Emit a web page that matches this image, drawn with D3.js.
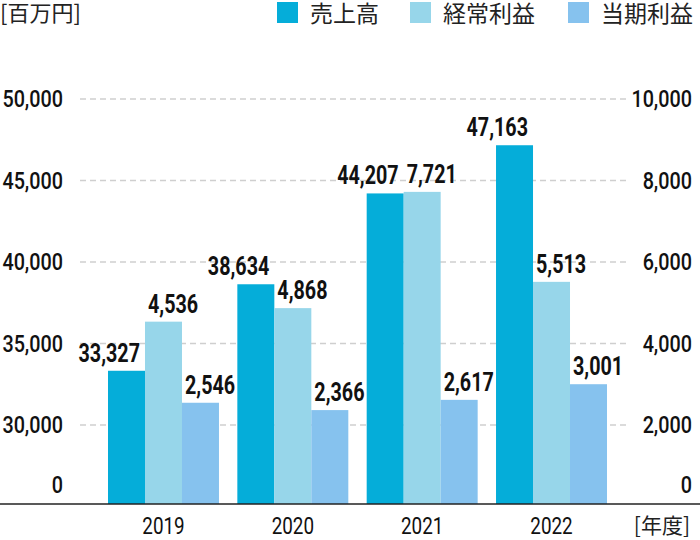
<!DOCTYPE html>
<html>
<head>
<meta charset="utf-8">
<script src="https://cdn.jsdelivr.net/npm/d3@7/dist/d3.min.js"></script>
<style>
  html, body { margin: 0; padding: 0; background: #fff; }
  svg { display: block; }
</style>
</head>
<body>
<svg id="chart" width="700" height="540"></svg>
<script>
// ---- data ----
const years = ["2019", "2020", "2021", "2022"];
const seriesNames = ["売上高", "経常利益", "当期利益"];
const sales = [33327, 38634, 44207, 47163];          // 売上高 (left axis)
const ordinaryProfit = [4536, 4868, 7721, 5513];     // 経常利益 (right axis)
const netProfit = [2546, 2366, 2617, 3001];          // 当期利益 (right axis)
const leftTicks = [30000, 35000, 40000, 45000, 50000];
const rightTicks = [2000, 4000, 6000, 8000, 10000];
const unitLabel = "[百万円]";
const xUnitLabel = "[年度]";

// ---- styles ----
const colors = ["#05ADD9", "#97D6EA", "#86C2EE"];
const numFont = "Roboto, 'Liberation Sans', sans-serif";
const cjkFont = "'Noto Sans CJK JP', 'Noto Sans', sans-serif";
const fmt = d3.format(",");

const svg = d3.select("#chart");
const W = 700, H = 540;
const baseY = 504;

// scales
const yR = d3.scaleLinear().domain([0, 10000]).range([506.5, 99]);
// broken left axis: 0 .. 30000 compressed into the bottom band
const yL = d3.scaleLinear().domain([0, 30000, 50000]).range([506.5, yR(2000), 99]);

const x0 = d3.scaleBand().domain(years).range([108, 607]).paddingInner(0.142).paddingOuter(0);
const x1 = d3.scaleBand().domain(seriesNames).range([0, x0.bandwidth()]).padding(0);

// gridlines
svg.append("g").selectAll("line").data(rightTicks).join("line")
  .attr("x1", 80).attr("x2", 628)
  .attr("y1", d => yR(d)).attr("y2", d => yR(d))
  .attr("stroke", "#cfcfcf").attr("stroke-width", 1.6)
  .attr("stroke-dasharray", "6,4");

// bars
const rows = years.map((y, i) => ({
  year: y,
  vals: [
    { s: seriesNames[0], v: sales[i], y: yL(sales[i]) },
    { s: seriesNames[1], v: ordinaryProfit[i], y: yR(ordinaryProfit[i]) },
    { s: seriesNames[2], v: netProfit[i], y: yR(netProfit[i]) }
  ]
}));

const g = svg.append("g").selectAll("g").data(rows).join("g")
  .attr("transform", d => `translate(${x0(d.year)},0)`);

g.selectAll("rect").data(d => d.vals).join("rect")
  .attr("x", d => x1(d.s))
  .attr("width", x1.bandwidth())
  .attr("y", d => d.y)
  .attr("height", d => baseY - d.y)
  .attr("fill", (d, i) => colors[i]);

// value labels
g.selectAll("text").data(d => d.vals).join("text")
  .attr("transform", (d, i) => {
    const tx = i === 0 ? x1(d.s) + x1.bandwidth() - 5 : x1(d.s) + 3;
    return `translate(${tx},${d.y - 9}) scale(0.76,1)`;
  })
  .attr("text-anchor", (d, i) => i === 0 ? "end" : "start")
  .attr("font-family", numFont).attr("font-weight", 700).attr("font-size", 26)
  .attr("fill", "#111")
  .text(d => fmt(d.v));

// baseline
svg.append("line").attr("x1", 0).attr("x2", W).attr("y1", baseY).attr("y2", baseY)
  .attr("stroke", "#222").attr("stroke-width", 1.4);

// axis tick labels
function tickText(xp, yp, txt) {
  svg.append("text")
    .attr("transform", `translate(${xp},${yp}) scale(0.86,1)`)
    .attr("text-anchor", "end")
    .attr("font-family", numFont).attr("font-weight", 500).attr("font-size", 23)
    .attr("fill", "#111").text(txt);
}
leftTicks.forEach(t => tickText(63, yL(t) + 8, fmt(t)));
rightTicks.forEach(t => tickText(692, yR(t) + 8, fmt(t)));
tickText(63, yL(0) - 13.5, "0");
tickText(692, yR(0) - 13.5, "0");

// year labels
svg.append("g").selectAll("text").data(years).join("text")
  .attr("transform", d => `translate(${x0(d) + x0.bandwidth() / 2},534) scale(0.82,1)`)
  .attr("text-anchor", "middle")
  .attr("font-family", numFont).attr("font-weight", 400).attr("font-size", 23)
  .attr("fill", "#111").text(d => d);

// unit labels
svg.append("text").attr("x", 0).attr("y", 21)
  .attr("font-family", cjkFont).attr("font-size", 22).attr("fill", "#222").text(unitLabel);
svg.append("text").attr("x", 690).attr("y", 533).attr("text-anchor", "end")
  .attr("font-family", cjkFont).attr("font-size", 21).attr("fill", "#222").text(xUnitLabel);

// legend
const legendX = [277, 410, 568];
const lg = svg.append("g").selectAll("g").data(seriesNames).join("g")
  .attr("transform", (d, i) => `translate(${legendX[i]},2)`);
lg.append("rect").attr("width", 21).attr("height", 21).attr("fill", (d, i) => colors[i]);
lg.append("text").attr("x", 33).attr("y", 20)
  .attr("font-family", cjkFont).attr("font-size", 23).attr("fill", "#222").text(d => d);
</script>
</body>
</html>
